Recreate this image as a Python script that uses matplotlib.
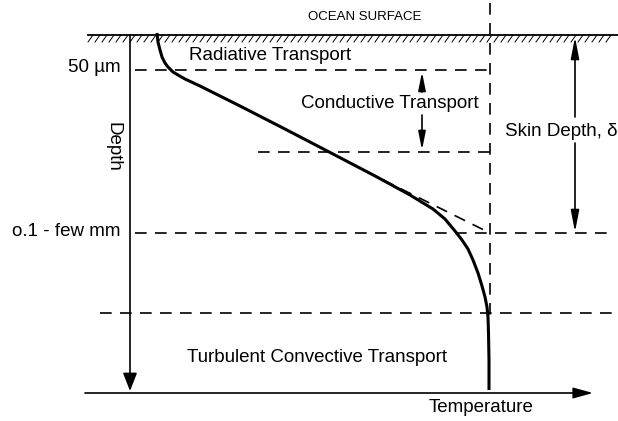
import numpy as np
import matplotlib.pyplot as plt

plt.rcParams['font.family'] = ['Liberation Sans', 'DejaVu Sans']

# temperature profile through the skin layer (schematic units, depth grows downward)
profile_temp = [157, 158, 160, 162, 165, 168, 173, 178, 185, 200, 240, 283, 333,
                377, 410, 433, 445, 455, 462, 468, 473, 478, 482, 485, 487,
                488, 488.5, 489, 489]
profile_depth = [33, 42, 50, 57, 63, 67, 72, 75, 79, 86, 106, 128, 154,
                 177, 195, 209, 219, 231, 240, 249, 260, 273, 286, 297, 307,
                 317, 333, 360, 390]

# linear conductive extrapolation
tangent_temp = [365, 490]
tangent_depth = [171, 233]

surface_depth = 35
bulk_temp = 490
level_depths = [70, 152, 233, 313]
level_starts = [135, 258, 135, 100]
level_ends = [490, 490, 610, 612]
depth_labels = ["50 µm", "o.1 - few mm"]
depth_label_levels = [68, 232]

fig = plt.figure(figsize=(6.18, 4.21), dpi=100)
ax = fig.add_axes([0, 0, 1, 1])
ax.set_xlim(0, 618)
ax.set_ylim(421, 0)
ax.axis("off")

dash = dict(color="black", lw=1.2, dashes=(7, 5))
fs = 13.5


def arrow(x0, y0, x1, y1, hl, hw):
    ax.annotate("", xy=(x1, y1), xytext=(x0, y0),
                arrowprops=dict(arrowstyle=f"-|>,head_length={hl},head_width={hw}",
                                color="black", lw=1.2, mutation_scale=10,
                                shrinkA=0, shrinkB=0))


# ocean surface with hatching
ax.plot([88, 618], [surface_depth, surface_depth], color="black", lw=1.3)
for x in np.arange(88, 612, 7):
    ax.plot([x, x + 5], [surface_depth + 7, surface_depth], color="black", lw=0.7)
ax.text(365, 17, "OCEAN SURFACE", ha="center", va="center", fontsize=9.5)

# dashed levels
for d, x0, x1 in zip(level_depths, level_starts, level_ends):
    ax.plot([x0, x1], [d, d], **dash)
ax.plot([bulk_temp, bulk_temp], [3, 315], **dash)
ax.plot(tangent_temp, tangent_depth, **dash)

# profile
ax.plot(profile_temp, profile_depth, color="black", lw=2.2,
        solid_capstyle="butt", solid_joinstyle="round")

# axes
arrow(130, surface_depth, 130, 391, 1.1, 0.43)
arrow(85, 393, 593, 393, 1.2, 0.33)
ax.text(113, 147, "Depth", rotation=270, ha="center", va="center", fontsize=fs)
ax.text(481, 408, "Temperature", ha="center", va="center", fontsize=fs)

for lab, d in zip(depth_labels, depth_label_levels):
    ax.text(121, d, lab, ha="right", va="center", fontsize=fs)

# conductive layer arrows
arrow(422, 92, 422, 72, 1.1, 0.22)
arrow(422, 115, 422, 150, 1.1, 0.22)

# skin depth double arrow
arrow(575, 117, 575, 37, 1.3, 0.25)
arrow(575, 143, 575, 232, 1.3, 0.25)
ax.text(561, 131, "Skin Depth, δ", ha="center", va="center", fontsize=fs)

ax.text(270, 55, "Radiative Transport", ha="center", va="center", fontsize=fs)
ax.text(390, 103, "Conductive Transport", ha="center", va="center", fontsize=fs)
ax.text(317, 358, "Turbulent Convective Transport", ha="center", va="center", fontsize=fs)

plt.savefig("out.png", dpi=100)
